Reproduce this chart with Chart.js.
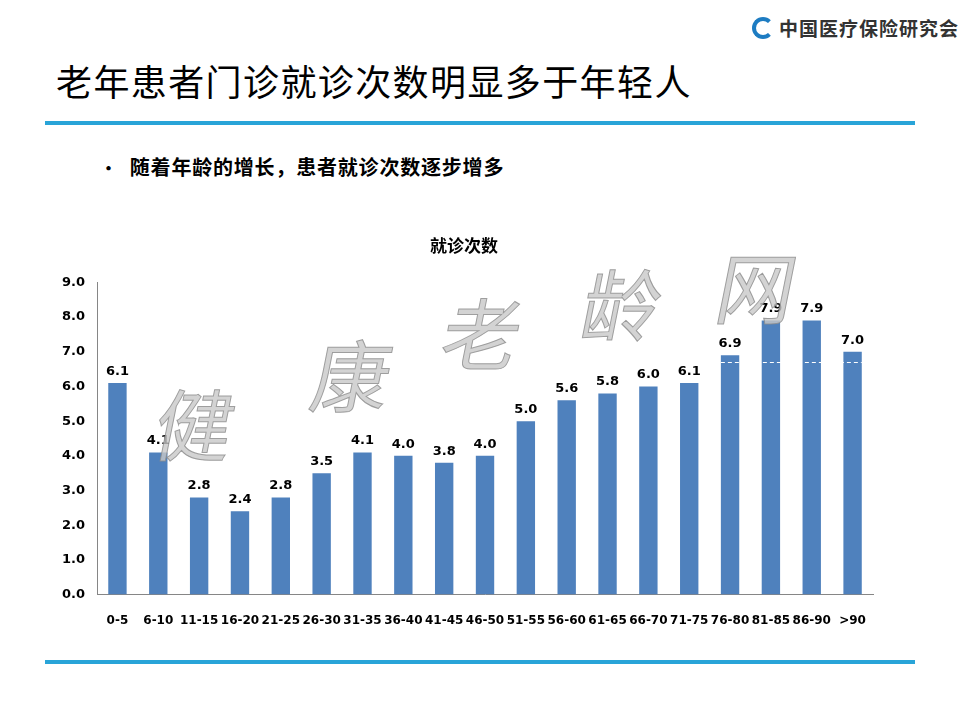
<!DOCTYPE html>
<html>
<head>
<meta charset="utf-8">
<script src="https://cdn.jsdelivr.net/npm/chart.js@4"></script>
<style>
    body { margin: 0; width: 960px; height: 720px; background: #fff; position: relative; overflow: hidden; font-family: "Noto Sans CJK SC", sans-serif; }
    .heading { position: absolute; left: 56px; top: 54px; font-size: 36px; color: #000; letter-spacing: 1.4px; }
    .rule { position: absolute; left: 45px; width: 870px; height: 4px; background: #29a4d8; }
    .bullet { position: absolute; left: 100px; top: 152px; font-size: 20px; font-weight: bold; color: #000; letter-spacing: 0.8px; }
    .bullet span { margin-right: 12px; font-size: 17px; }
    .logo { position: absolute; left: 752px; top: 14px; font-size: 19px; letter-spacing: 1px; color: #333; font-weight: bold; display: flex; align-items: center; }
    .logo i { display: inline-block; width: 22px; height: 22px; border-radius: 50%; border: 4px solid #1d7cc2; border-right-color: transparent; margin-right: 5px; box-sizing: border-box; }
    #wrap { position: absolute; left: 40px; top: 228px; width: 850px; height: 414px; }
</style>
</head>
<body>
<div class="logo"><i></i>中国医疗保险研究会</div>
<div class="heading">老年患者门诊就诊次数明显多于年轻人</div>
<div class="rule" style="top:121px"></div>
<div class="bullet"><span>•</span>随着年龄的增长，患者就诊次数逐步增多</div>
<div class="rule" style="top:660px"></div>
<div id="wrap"><canvas id="visitChart"></canvas></div>
<script>
// age groups and average visit counts
const ageGroups = ['0-5', '6-10', '11-15', '16-20', '21-25', '26-30', '31-35', '36-40', '41-45', '46-50',
    '51-55', '56-60', '61-65', '66-70', '71-75', '76-80', '81-85', '86-90', '>90'];
const visitCounts = [6.1, 4.1, 2.8, 2.4, 2.8, 3.5, 4.1, 4.0, 3.8, 4.0, 5.0, 5.6, 5.8, 6.0, 6.1, 6.9, 7.9, 7.9, 7.0];
// faint white dashed line that shows across the tallest bars (value and first bar index)
const dashLevel = 6.7;
const dashFrom = 15;
const watermarkChars = ['健', '康', '老', '龄', '网'];

const numFont = { family: 'DejaVu Sans, Verdana, sans-serif', size: 13, weight: 'bold' };

// value labels above bars + white dashed line
const barLabels = {
    id: 'barLabels',
    afterDatasetsDraw(chart) {
        const ctx = chart.ctx;
        const meta = chart.getDatasetMeta(0);
        ctx.save();
        const first = meta.data[dashFrom];
        const last = meta.data[meta.data.length - 1];
        const yd = Math.round(chart.scales.y.getPixelForValue(dashLevel)) + 0.5;
        ctx.strokeStyle = '#ffffff';
        ctx.lineWidth = 1;
        ctx.setLineDash([4, 3]);
        ctx.beginPath();
        ctx.moveTo(first.x - first.width / 2, yd);
        ctx.lineTo(last.x + last.width / 2, yd);
        ctx.stroke();
        ctx.setLineDash([]);

        ctx.font = 'bold 13px DejaVu Sans, Verdana, sans-serif';
        ctx.fillStyle = '#000';
        ctx.textAlign = 'center';
        ctx.textBaseline = 'bottom';
        meta.data.forEach((bar, i) => {
            ctx.fillText(visitCounts[i].toFixed(1), bar.x, bar.y - 5);
        });
        ctx.restore();
    }
};

// big grey watermark across the plot
const watermark = {
    id: 'watermark',
    afterDraw(chart) {
        const ctx = chart.ctx;
        ctx.save();
        ctx.font = '78px "Noto Sans CJK SC", sans-serif';
        ctx.textAlign = 'center';
        ctx.textBaseline = 'middle';
        const pts = [[155, 197], [312, 148], [442, 106], [582, 77], [717, 60]];
        watermarkChars.forEach((ch, i) => {
            ctx.save();
            ctx.translate(pts[i][0], pts[i][1]);
            ctx.transform(1, 0, -0.2, 1, 0, 0);
            ctx.fillStyle = 'rgba(200,200,200,0.8)';
            ctx.strokeStyle = 'rgba(140,140,140,0.8)';
            ctx.lineWidth = 1;
            ctx.fillText(ch, 0, 0);
            ctx.strokeText(ch, 0, 0);
            ctx.restore();
        });
        ctx.restore();
    }
};

new Chart(document.getElementById('visitChart').getContext('2d'), {
    type: 'bar',
    data: {
        labels: ageGroups,
        datasets: [{
            label: '就诊次数',
            data: visitCounts,
            backgroundColor: '#4f81bd',
            barPercentage: 0.45,
            categoryPercentage: 1
        }]
    },
    options: {
        responsive: true,
        maintainAspectRatio: false,
        animation: false,
        layout: { padding: { left: 15, right: 17, top: 0, bottom: 0 } },
        plugins: {
            legend: { display: false },
            tooltip: { enabled: false },
            title: {
                display: true,
                text: '就诊次数',
                color: '#000',
                font: { family: 'Noto Sans CJK SC', size: 17, weight: 'bold' },
                padding: { top: 7, bottom: 27 }
            }
        },
        scales: {
            y: {
                min: 0,
                max: 9,
                ticks: { stepSize: 1, color: '#000', font: numFont, padding: 7, callback: v => v.toFixed(1) },
                grid: { display: false, drawTicks: true, tickLength: 5, color: '#868686' },
                border: { display: true, color: '#868686' }
            },
            x: {
                ticks: { color: '#000', font: { ...numFont, size: 12 }, maxRotation: 0, autoSkip: false, padding: 14 },
                grid: { display: false, offset: true, tickLength: 5, color: '#868686' },
                border: { display: true, color: '#868686' }
            }
        }
    },
    plugins: [barLabels, watermark]
});
</script>
</body>
</html>
